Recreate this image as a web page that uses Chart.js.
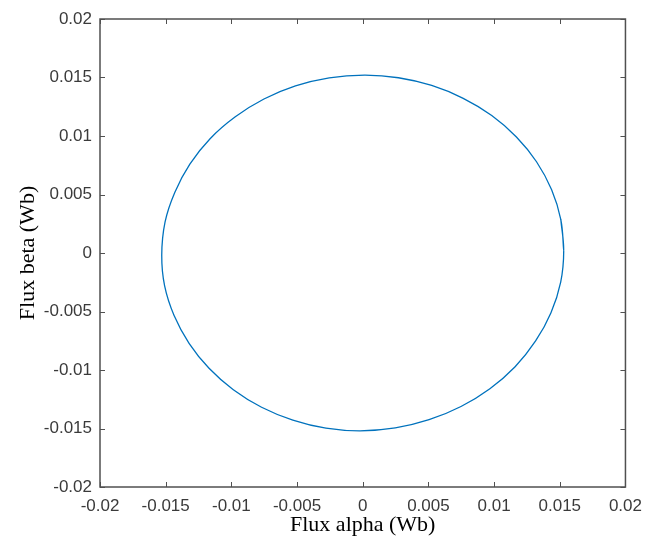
<!DOCTYPE html>
<html>
<head>
<meta charset="utf-8">
<script src="https://cdn.jsdelivr.net/npm/chart.js@4.4.0/dist/chart.umd.min.js"></script>
<style>
  html, body { margin: 0; padding: 0; background: #fff; }
  #wrap { width: 651px; height: 545px; }
</style>
</head>
<body>
<div id="wrap"><canvas id="myChart" width="651" height="545"></canvas></div>
<script>
// flux trajectory (Wb), one lap plus a small overlap
const fluxAlpha = [0.0153, 0.01508, 0.01438, 0.01323, 0.0117, 0.00982, 0.00765, 0.00525, 0.00272, 0.00015,
    -0.00255, -0.00512, -0.00752, -0.0097, -0.01162, -0.01316, -0.0143, -0.01505, -0.0153,
    -0.01508, -0.01436, -0.01322, -0.0117, -0.00985, -0.0077, -0.00532, -0.0028, -0.0002,
    0.00248, 0.00505, 0.00748, 0.00968, 0.0116, 0.01316, 0.01433, 0.01507, 0.0153, 0.01508];
const fluxBeta = [0.0002, 0.00285, 0.0054, 0.0078, 0.00992, 0.01175, 0.01322, 0.01432, 0.01498, 0.0152,
    0.01497, 0.01428, 0.01316, 0.01164, 0.00977, 0.0076, 0.0052, 0.00264, -0.0002,
    -0.00282, -0.00535, -0.00772, -0.00985, -0.01168, -0.01318, -0.01428, -0.01497, -0.0152,
    -0.01495, -0.01425, -0.01312, -0.0116, -0.00972, -0.00752, -0.0051, -0.00248, 0.0002, 0.00285];
const axisMin = -0.02;
const axisMax = 0.02;
const tickStep = 0.005;

const axisColor = '#505050';
const tickFont = { family: 'Liberation Sans, Arial', size: 17 };
const titleFont = { family: 'Liberation Serif, Times New Roman', size: 22 };

const points = fluxAlpha.map((a, i) => ({ x: a, y: fluxBeta[i] }));

function fmt(v) {
    if (Math.abs(v) < 1e-9) return '0';
    return String(Math.round(v * 1000) / 1000);
}

function buildTicks(s) {
    s.ticks = [];
    for (let v = axisMin; v <= axisMax + 1e-9; v += tickStep) s.ticks.push({ value: Math.round(v * 1000) / 1000 });
}

// box + inward ticks on all four sides, like MATLAB
const boxPlugin = {
    id: 'boxPlugin',
    afterDraw(chart) {
        const { ctx, chartArea: a, scales } = chart;
        const len = 5;
        ctx.save();
        ctx.strokeStyle = axisColor;
        ctx.lineWidth = 1.5;
        ctx.strokeRect(a.left, a.top, a.right - a.left, a.bottom - a.top);
        ctx.lineWidth = 1;
        ctx.beginPath();
        scales.x.ticks.forEach(t => {
            const px = Math.round(scales.x.getPixelForValue(t.value)) + 0.5;
            ctx.moveTo(px, a.bottom); ctx.lineTo(px, a.bottom - len);
            ctx.moveTo(px, a.top); ctx.lineTo(px, a.top + len);
        });
        scales.y.ticks.forEach(t => {
            const py = Math.round(scales.y.getPixelForValue(t.value)) + 0.5;
            ctx.moveTo(a.left, py); ctx.lineTo(a.left + len, py);
            ctx.moveTo(a.right, py); ctx.lineTo(a.right - len, py);
        });
        ctx.stroke();
        ctx.restore();
    }
};

const ctx = document.getElementById('myChart').getContext('2d');
const chart = new Chart(ctx, {
    type: 'scatter',
    data: {
        datasets: [{
            data: points,
            showLine: true,
            borderColor: '#0072BD',
            borderWidth: 1.3,
            pointRadius: 0,
            tension: 0.4,
            fill: false
        }]
    },
    options: {
        responsive: false,
        animation: false,
        layout: { padding: { left: 0, top: 19, right: 23, bottom: 0 } },
        plugins: { legend: { display: false }, tooltip: { enabled: false } },
        scales: {
            x: {
                type: 'linear',
                min: axisMin,
                max: axisMax,
                afterFit: s => { s.height = 58; },
                afterBuildTicks: buildTicks,
                grid: { display: false, drawTicks: false },
                border: { display: false },
                ticks: { color: '#3a3a3a', font: tickFont, padding: 9, maxRotation: 0, callback: v => fmt(v) },
                title: { display: true, text: 'Flux alpha (Wb)', color: '#000', font: titleFont, padding: { top: 0, bottom: 7 } }
            },
            y: {
                type: 'linear',
                min: axisMin,
                max: axisMax,
                afterFit: s => { s.width = 100; },
                afterBuildTicks: buildTicks,
                grid: { display: false, drawTicks: false },
                border: { display: false },
                ticks: { color: '#3a3a3a', font: tickFont, padding: 8, callback: v => fmt(v) },
                title: { display: true, text: 'Flux beta (Wb)', color: '#000', font: titleFont, padding: { top: 15, bottom: 0 } }
            }
        }
    },
    plugins: [boxPlugin]
});
</script>
</body>
</html>
